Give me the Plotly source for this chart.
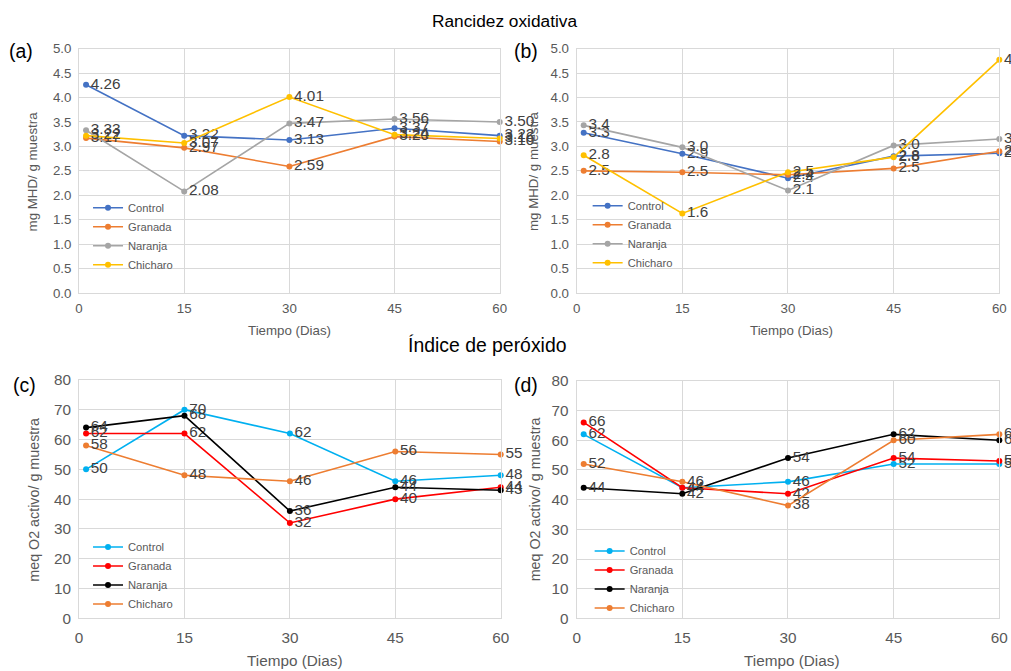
import plotly.graph_objects as go

# empirical mapping between page pixels and the photographed picture
SX, BX = 0.988, -4.0
SY, BY = 0.977, 0.5
OFF = 8  # default body margin
W, H = 1018, 678
FS = 1.02  # font compensation

days = [1, 15, 30, 45, 60]
series_names = ["Control", "Granada", "Naranja", "Chicharo"]

# (a) Rancidez oxidativa
a_control = [4.26, 3.22, 3.13, 3.37, 3.22]
a_granada = [3.17, 2.97, 2.59, 3.20, 3.10]
a_naranja = [3.33, 2.08, 3.47, 3.56, 3.50]
a_chicharo = [3.22, 3.07, 4.01, 3.24, 3.16]

# (b) Rancidez oxidativa
b_control = [3.28, 2.85, 2.35, 2.80, 2.86]
b_granada = [2.50, 2.47, 2.42, 2.55, 2.90]
b_naranja = [3.43, 2.98, 2.10, 3.02, 3.15]
b_chicharo = [2.82, 1.63, 2.47, 2.78, 4.77]

# (c) Indice de peroxido
c_control = [50, 70, 62, 46, 48]
c_granada = [62, 62, 32, 40, 44]
c_naranja = [64, 68, 36, 44, 43]
c_chicharo = [58, 48, 46, 56, 55]

# (d) Indice de peroxido
d_control = [62, 44, 46, 52, 52]
d_granada = [66, 44, 42, 54, 53]
d_naranja = [44, 42, 54, 62, 60]
d_chicharo = [52, 46, 38, 60, 62]

top_colors = ["#4472C4", "#ED7D31", "#A5A5A5", "#FFC000"]
bot_colors = ["#00B0F0", "#FF0000", "#000000", "#ED7D31"]

FONT = "Liberation Sans, Arial, sans-serif"
TICK_C = "#595959"
LABEL_C = "#404040"
GRID_C = "#d9d9d9"


def px(x):
    return ((x - BX) / SX - OFF) / W


def py(y):
    return 1 - ((y - BY) / SY - OFF) / H


def fs(s):
    return round(s * FS, 1)


fig = go.Figure()

panels = [
    ("x", "y", [a_control, a_granada, a_naranja, a_chicharo], top_colors, "%{y:.2f}", "legend"),
    ("x2", "y2", [b_control, b_granada, b_naranja, b_chicharo], top_colors, "%{y:.1f}", "legend2"),
    ("x3", "y3", [c_control, c_granada, c_naranja, c_chicharo], bot_colors, "%{y:.0f}", "legend3"),
    ("x4", "y4", [d_control, d_granada, d_naranja, d_chicharo], bot_colors, "%{y:.0f}", "legend4"),
]

for xa, ya, data, colors, tmpl, leg in panels:
    for name, vals, col in zip(series_names, data, colors):
        fig.add_trace(go.Scatter(
            x=days, y=vals, name=name, mode="lines+markers+text",
            line=dict(color=col, width=1.6),
            marker=dict(color=col, size=6),
            texttemplate=tmpl, textposition="middle right",
            textfont=dict(family=FONT, size=fs(15), color=LABEL_C),
            cliponaxis=False, xaxis=xa, yaxis=ya, legend=leg,
        ))

# domains in picture pixels
doms = {
    "a": ([79, 500], [48, 293]),
    "b": ([577, 1000], [48, 293]),
    "c": ([79, 501], [380, 619]),
    "d": ([577, 1000], [381, 619]),
}

axis_common = dict(showgrid=True, gridcolor=GRID_C, gridwidth=1, showline=True,
                   linecolor=GRID_C, linewidth=1, mirror=True, zeroline=False,
                   ticks="", fixedrange=True)


def xaxis(dom, anchor, size, standoff):
    return dict(domain=[px(dom[0][0]), px(dom[0][1])], anchor=anchor, range=[0, 60],
                tickmode="array", tickvals=[0, 15, 30, 45, 60], ticklabelstandoff=standoff,
                tickfont=dict(family=FONT, size=fs(size), color=TICK_C), **axis_common)


def yaxis(dom, anchor, rng, dtick, fmt, size):
    return dict(domain=[py(dom[1][1]), py(dom[1][0])], anchor=anchor, range=rng,
                dtick=dtick, tickformat=fmt, ticklabelstandoff=4,
                tickfont=dict(family=FONT, size=fs(size), color=TICK_C), **axis_common)


fig.update_layout(
    width=W, height=H, margin=dict(l=0, r=0, t=0, b=0),
    paper_bgcolor="white", plot_bgcolor="white",
    font=dict(family=FONT, color=TICK_C),
    xaxis=xaxis(doms["a"], "y", 13, 3),
    yaxis=yaxis(doms["a"], "x", [0, 5], 0.5, ".1f", 13),
    xaxis2=xaxis(doms["b"], "y2", 13, 3),
    yaxis2=yaxis(doms["b"], "x2", [0, 5], 0.5, ".1f", 13),
    xaxis3=xaxis(doms["c"], "y3", 15, 5),
    yaxis3=yaxis(doms["c"], "x3", [0, 80], 10, "d", 15),
    xaxis4=xaxis(doms["d"], "y4", 15, 5),
    yaxis4=yaxis(doms["d"], "x4", [0, 80], 10, "d", 15),
)

leg_common = dict(bgcolor="rgba(0,0,0,0)", font=dict(family=FONT, size=fs(11), color=TICK_C),
                  xanchor="left", yanchor="top", tracegroupgap=0, itemwidth=30)
fig.update_layout(
    legend=dict(x=px(88), y=py(193), **leg_common),
    legend2=dict(x=px(588), y=py(191), **leg_common),
    legend3=dict(x=px(88), y=py(533), **leg_common),
    legend4=dict(x=px(590), y=py(537), **leg_common),
)

ann = []


def add_text(text, x, y, size, color, angle=0):
    ann.append(dict(text=text, x=px(x), y=py(y), xref="paper", yref="paper",
                    showarrow=False, textangle=angle, xanchor="center", yanchor="middle",
                    font=dict(family=FONT, size=fs(size), color=color)))


add_text("Rancidez oxidativa", 505, 20, 17, "#000000")
add_text("Índice de peróxido", 487, 345, 19, "#000000")
add_text("(a)", 21, 50, 19, "#000000")
add_text("(b)", 526, 50, 19, "#000000")
add_text("(c)", 24, 385, 19, "#000000")
add_text("(d)", 526, 385, 19, "#000000")
add_text("Tiempo (Dias)", 290, 331, 13, TICK_C)
add_text("Tiempo (Dias)", 792, 331, 13, TICK_C)
add_text("Tiempo (Dias)", 295, 661, 15, TICK_C)
add_text("Tiempo (Dias)", 792, 661, 15, TICK_C)
add_text("mg MHD/ g muestra", 32, 171, 13, TICK_C, angle=-90)
add_text("mg MHD/ g muestra", 534, 171, 13, TICK_C, angle=-90)
add_text("meq O2 activo/ g muestra", 34, 500, 14, TICK_C, angle=-90)
add_text("meq O2 activo/ g muestra", 535, 500, 14, TICK_C, angle=-90)

fig.update_layout(annotations=ann)

fig.write_html("out.html")
